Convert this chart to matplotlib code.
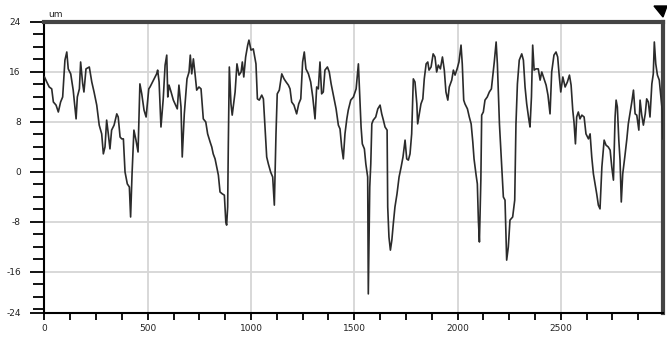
import matplotlib.pyplot as plt
from matplotlib.patches import Polygon
from matplotlib.ticker import MultipleLocator

# profile: position along the scan and height (um)
x_pos = [0, 11, 23, 35, 43, 56, 67, 78, 88, 99, 108, 115, 127, 139, 153, 159, 169, 175,
         185, 191, 201, 217, 229, 240, 253, 265, 277, 285, 293, 301, 309, 317, 325, 337,
         350, 357, 366, 374, 382, 390, 401, 411, 417, 424, 433, 443, 453, 462, 471, 482,
         492, 505, 511, 543, 548, 555, 564, 575, 584, 592, 597, 603, 613, 624, 635, 643,
         651, 661, 667, 677, 684, 690, 700, 706, 713, 721, 729, 737, 748, 758, 769, 781,
         790, 802, 810, 817, 826, 834, 842, 850, 861, 871, 878, 882, 887, 890, 895, 903,
         909, 916, 923, 932, 942, 952, 958, 965, 974, 984, 990, 1000, 1011, 1024, 1031,
         1040, 1052, 1060, 1068, 1076, 1084, 1095, 1105, 1113, 1121, 1127, 1137, 1149,
         1160, 1170, 1181, 1189, 1197, 1208, 1221, 1231, 1241, 1250, 1258, 1266, 1278,
         1289, 1299, 1310, 1318, 1326, 1334, 1342, 1350, 1358, 1370, 1379, 1388, 1399,
         1412, 1423, 1431, 1439, 1447, 1455, 1464, 1471, 1483, 1496, 1509, 1520, 1527,
         1533, 1539, 1549, 1556, 1565, 1568, 1575, 1580, 1585, 1592, 1604, 1614, 1625,
         1633, 1641, 1649, 1659, 1662, 1668, 1675, 1682, 1689, 1697, 1707, 1717, 1727,
         1736, 1746, 1754, 1762, 1770, 1778, 1786, 1794, 1803, 1807, 1815, 1823, 1832,
         1839, 1848, 1856, 1862, 1872, 1882, 1891, 1899, 1907, 1917, 1927, 1936, 1944,
         1953, 1960, 1972, 1980, 1988, 1998, 2007, 2017, 2023, 2030, 2036, 2048, 2057,
         2066, 2074, 2080, 2090, 2096, 2101, 2106, 2113, 2117, 2125, 2133, 2144, 2154,
         2164, 2171, 2178, 2187, 2193, 2203, 2214, 2222, 2230, 2238, 2246, 2254, 2267,
         2277, 2283, 2290, 2299, 2311, 2319, 2327, 2335, 2345, 2351, 2358, 2364, 2371,
         2380, 2391, 2400, 2408, 2419, 2429, 2438, 2448, 2456, 2467, 2477, 2485, 2493,
         2500, 2510, 2521, 2532, 2542, 2550, 2558, 2564, 2571, 2577, 2585, 2593, 2602,
         2613, 2622, 2634, 2642, 2650, 2658, 2666, 2674, 2682, 2690, 2699, 2710, 2719,
         2730, 2739, 2747, 2755, 2763, 2768, 2774, 2781, 2787, 2793, 2800, 2810, 2820,
         2827, 2836, 2844, 2852, 2860, 2868, 2878, 2884, 2892, 2900, 2909, 2916, 2924,
         2932, 2941, 2948, 2953, 2960, 2968, 2977, 2986, 2991, 2994]
height = [15.2, 14.4, 13.6, 13.3, 11.2, 10.7, 9.6, 11.2, 12.0, 17.9, 19.2, 16.5, 15.7, 13.1,
          8.5, 12.0, 13.3, 17.6, 14.1, 12.8, 16.5, 16.8, 14.4, 12.8, 10.7, 7.5, 6.1, 2.9,
          4.0, 8.3, 6.1, 3.7, 6.7, 7.5, 9.3, 8.8, 5.6, 5.3, 5.3, 0.0, -1.9, -2.4, -7.2,
          -0.3, 6.7, 5.1, 3.2, 14.1, 12.5, 9.9, 8.8, 13.3, 13.6, 15.7, 16.3, 14.4, 7.2,
          11.7, 17.1, 18.7, 12.0, 13.9, 12.8, 11.5, 10.7, 10.1, 13.9, 10.4, 2.4, 9.3, 12.3,
          14.9, 16.0, 18.7, 15.7, 18.1, 15.7, 13.1, 13.6, 13.3, 8.5, 8.0, 6.1, 4.8, 4.0,
          2.9, 2.1, 0.8, -0.5, -3.2, -3.5, -3.7, -8.0, -8.5, -5.6, 4.0, 16.8, 10.9, 9.1,
          10.9, 12.8, 17.3, 15.5, 16.0, 17.6, 15.2, 18.4, 20.3, 21.1, 19.5, 19.7, 17.3,
          11.7, 11.5, 12.3, 11.7, 7.2, 2.4, 1.3, 0.0, -0.8, -5.3, 6.1, 12.5, 13.1, 15.7,
          14.9, 14.4, 13.9, 13.3, 11.2, 10.7, 9.3, 10.9, 11.7, 17.6, 19.2, 16.5, 15.7,
          14.4, 12.0, 8.5, 13.6, 13.3, 17.6, 12.5, 12.8, 16.3, 16.8, 16.0, 14.1, 12.3,
          10.1, 7.5, 6.9, 4.0, 2.1, 6.1, 8.5, 9.9, 11.5, 12.0, 13.3, 17.3, 12.0, 7.2, 4.5,
          3.7, 1.3, -0.8, -19.5, -2.4, 1.3, 7.7, 8.3, 8.8, 10.1, 10.7, 9.3, 8.3, 7.2, 6.7,
          -5.6, -10.4, -12.5, -10.9, -8.3, -5.6, -3.5, -0.8, 0.8, 2.4, 5.1, 2.1, 1.9, 2.9,
          6.1, 14.9, 14.4, 10.9, 7.7, 9.3, 10.9, 11.7, 14.9, 17.3, 17.6, 16.3, 16.8, 18.9,
          18.4, 16.0, 17.1, 16.5, 18.4, 16.3, 12.8, 11.5, 13.6, 14.7, 16.3, 15.5, 16.5,
          17.6, 20.3, 17.3, 11.5, 10.9, 10.1, 8.8, 7.7, 4.8, 2.1, -0.5, -1.9, -7.7, -11.2,
          -1.3, 9.1, 9.6, 11.5, 12.0, 12.8, 13.3, 15.5, 17.6, 20.8, 17.3, 7.7, 0.8, -4.0,
          -4.5, -14.1, -12.0, -7.7, -7.2, -4.5, 7.7, 14.1, 17.9, 18.9, 17.9, 13.6, 10.9,
          8.5, 7.2, 12.0, 20.3, 16.3, 16.5, 16.5, 14.7, 16.0, 14.9, 13.9, 12.3, 9.3, 16.0,
          18.7, 19.2, 18.4, 15.2, 12.8, 15.2, 13.6, 14.4, 15.5, 13.9, 9.9, 8.0, 4.5, 8.8,
          9.6, 8.5, 9.1, 8.8, 6.1, 5.3, 6.1, 2.4, -0.3, -1.9, -3.5, -5.3, -5.9, 0.8, 5.1,
          4.3, 4.0, 3.5, 0.8, -1.3, 8.8, 11.5, 10.4, 5.1, 1.9, -4.8, -0.3, 2.4, 5.3, 7.7,
          9.6, 11.2, 13.1, 9.3, 9.1, 6.7, 11.5, 9.1, 7.5, 9.3, 11.7, 11.2, 8.8, 14.1, 15.7,
          20.8, 17.3, 15.5, 14.7, 11.5, 9.9, 5.3]

x_ticks = [0, 500, 1000, 1500, 2000, 2500]
y_ticks = [24, 16, 8, 0, -8, -16, -22.56]
y_tick_labels = ['24', '16', '8', '0', '-8', '-16', '-24']

fig = plt.figure(figsize=(6.67, 3.42), dpi=100)
ax = fig.add_axes([0.0667, 0.0848, 0.9273, 0.8509])

ax.plot(x_pos, height, color='#2b2b2b', lw=1.2, zorder=3)

ax.set_xlim(0, 2995)
ax.set_ylim(-22.56, 24)
ax.set_xticks(x_ticks)
ax.xaxis.set_minor_locator(MultipleLocator(125))
ax.set_yticks(y_ticks)
ax.set_yticklabels(y_tick_labels)
ax.yaxis.set_minor_locator(MultipleLocator(2))

for v in x_ticks[1:]:
    ax.axvline(v, color='#d6d6d6', lw=1.3, zorder=1)
for v in y_ticks[1:-1]:
    ax.axhline(v, color='#d6d6d6', lw=1.3, zorder=1)

ax.tick_params(axis='x', which='major', length=5, width=1.3, pad=3,
               labelsize=6.5, labelcolor='#222222')
ax.tick_params(axis='x', which='minor', length=5, width=1.3)
ax.tick_params(axis='y', which='major', length=10, width=1.3, pad=7,
               labelsize=6.5, labelcolor='#222222')
ax.tick_params(axis='y', which='minor', length=8, width=1.3)

ax.spines['top'].set_linewidth(3)
ax.spines['top'].set_color('#444444')
ax.spines['right'].set_linewidth(3)
ax.spines['right'].set_color('#444444')
ax.spines['left'].set_linewidth(1.5)
ax.spines['bottom'].set_linewidth(1.5)

fig.text(0.073, 0.945, 'um', fontsize=6.5, color='#222222', va='bottom')

tri = Polygon([[654 / 667, 1 - 6 / 342], [667 / 667, 1 - 6 / 342], [663 / 667, 1 - 17 / 342]],
              closed=True, color='black', transform=fig.transFigure)
fig.patches.append(tri)

fig.savefig('out.png', dpi=100)
